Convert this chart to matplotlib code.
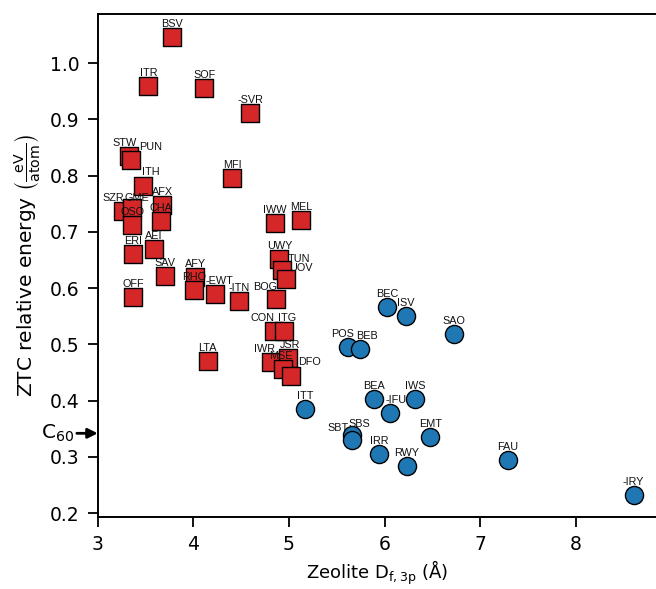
import matplotlib
matplotlib.use("Agg")
import matplotlib.pyplot as plt

# Red squares (series 1)
sq_names = ["BSV", "ITR", "SOF", "-SVR", "STW", "PUN", "MFI", "ITH", "AFX", "SZR", "GME",
            "OSO", "CHA", "IWW", "MEL", "ERI", "AEI", "UWY", "TUN", "UOV", "SAV", "AFY",
            "RHO", "-EWT", "-ITN", "BOG", "OFF", "CON", "ITG", "LTA", "IWR", "JSR", "MSE", "DFO"]
sq_x = [3.775, 3.53, 4.115, 4.597, 3.325, 3.35, 4.408, 3.476, 3.675, 3.267, 3.36,
        3.36, 3.665, 4.85, 5.13, 3.37, 3.59, 4.90, 4.93, 4.974, 3.70, 4.02,
        4.01, 4.23, 4.48, 4.86, 3.37, 4.84, 4.95, 4.15, 4.81, 4.99, 4.94, 5.02]
sq_y = [1.046, 0.959, 0.956, 0.912, 0.834, 0.827, 0.795, 0.782, 0.748, 0.737, 0.742,
        0.713, 0.719, 0.716, 0.722, 0.660, 0.670, 0.652, 0.632, 0.616, 0.622, 0.619,
        0.596, 0.590, 0.577, 0.580, 0.585, 0.523, 0.524, 0.471, 0.469, 0.475, 0.456, 0.444]

# Blue circles (series 2)
ci_names = ["BEC", "ISV", "SAO", "POS", "BEB", "ITT", "BEA", "IWS", "-IFU", "SBS", "SBT",
            "EMT", "IRR", "RWY", "FAU", "-IRY"]
ci_x = [6.03, 6.22, 6.73, 5.62, 5.74, 5.17, 5.89, 6.32, 6.06, 5.656, 5.656,
        6.48, 5.945, 6.235, 7.286, 8.605]
ci_y = [0.567, 0.550, 0.518, 0.496, 0.491, 0.386, 0.403, 0.403, 0.378, 0.339, 0.330,
        0.336, 0.305, 0.284, 0.294, 0.233]

c60_energy = 0.342

x_ticks = [3, 4, 5, 6, 7, 8]
y_ticks = [0.2, 0.3, 0.4, 0.5, 0.6, 0.7, 0.8, 0.9, 1.0]

# label nudges (pixels) relative to default placement above the marker
nudge = {"STW": (-4, 0), "PUN": (19, 0), "ITH": (8, 1), "SZR": (-10, 0), "GME": (5, -3),
         "TUN": (17, -2), "UOV": (14, -1.5), "-EWT": (4, 0), "BOG": (-10, -1),
         "CON": (-11, 0), "ITG": (2.5, 0), "IWR": (-6.5, 0), "JSR": (2.5, 0.5),
         "MSE": (-2.5, 0), "DFO": (19, 0.5), "POS": (-6, 0), "BEB": (7, 0),
         "-IFU": (6, 0), "SBS": (8, -1.7), "SBT": (-14, -0.7), "UWY": (0, 0)}

fig = plt.figure(figsize=(6.56, 5.89), dpi=100)
ax = fig.add_axes([0.149, 0.122, 0.853, 0.854])

ax.scatter(sq_x, sq_y, marker="s", s=160, c="#d62728", edgecolors="black",
           linewidths=1.0, zorder=3)
ax.scatter(ci_x, ci_y, marker="o", s=170, c="#1f77b4", edgecolors="black",
           linewidths=1.0, zorder=3)

for names, xs, ys in ((sq_names, sq_x, sq_y), (ci_names, ci_x, ci_y)):
    for n, x, y in zip(names, xs, ys):
        dx, dy = nudge.get(n, (0, 0))
        ax.annotate(n, (x, y), xytext=(dx, 10 + dy), textcoords="offset pixels",
                    ha="center", va="baseline", fontsize=7.8,
                    family="Liberation Sans", color="#111111", zorder=4)

ax.set_xlim(3.0, 8.853)
ax.set_ylim(0.193, 1.087)
ax.set_xticks(x_ticks)
ax.set_yticks(y_ticks)
ax.set_yticklabels([f"{v:.1f}" for v in y_ticks])
ax.tick_params(labelsize=13.5, length=7, width=1.3, pad=6)
for s in ax.spines.values():
    s.set_linewidth(1.4)

ax.set_xlabel(r"Zeolite D$_{\mathrm{f,3p}}$ (Å)", fontsize=13, labelpad=3)
ax.set_ylabel(r"ZTC relative energy $\left(\frac{\mathrm{eV}}{\mathrm{atom}}\right)$",
              fontsize=14.5, labelpad=5)

ax.annotate(r"C$_{60}$", xy=(0, c60_energy), xycoords=("axes fraction", "data"),
            xytext=(-29, 0), textcoords="offset points", ha="center", va="center",
            fontsize=14.5, annotation_clip=False,
            arrowprops=dict(arrowstyle="-|>,head_length=0.4,head_width=0.2",
                            color="black", lw=2, shrinkA=0, shrinkB=0))

fig.savefig("out.png", dpi=100)
